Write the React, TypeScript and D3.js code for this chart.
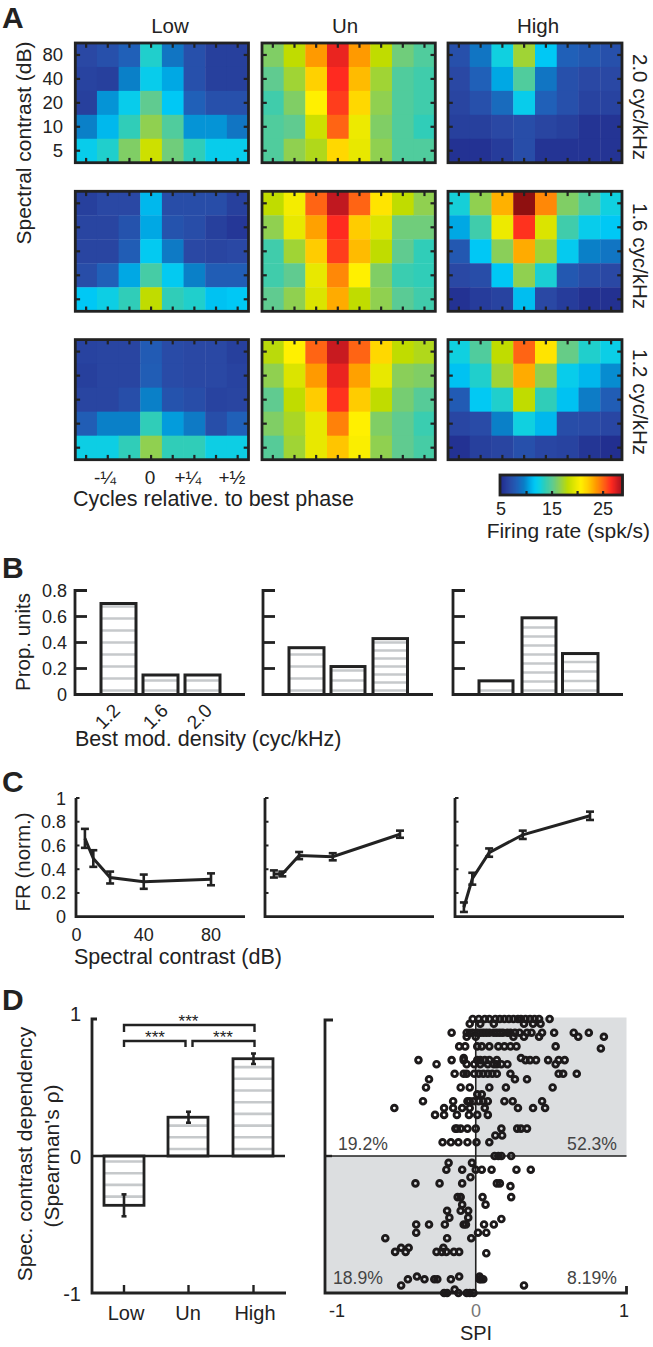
import React from "react";
import * as d3 from "d3";

const INK = "#222";
const FONT = "'Liberation Sans', Arial, sans-serif";

// ---------- Panel A data (firing rate, spk/s); rows top to bottom = 80,40,20,10,5 dB
const contrastLabels = ["80", "40", "20", "10", "5"];
const columnTitles = ["Low", "Un", "High"];
const densityLabels = ["2.0 cyc/kHz", "1.6 cyc/kHz", "1.2 cyc/kHz"];

const heatLow20 = [
  [6.5, 7, 8, 13, 9, 7, 6, 6],
  [6.2, 6, 9.5, 12, 10.5, 7, 6, 6],
  [6, 10, 12, 15, 11.5, 8, 7, 7],
  [9.5, 11, 13.5, 16.5, 14.5, 10, 10, 9],
  [12, 13, 16, 18.5, 15.5, 13.5, 12, 12],
];
const heatUn20 = [
  [16, 18, 23.5, 27, 23.5, 18, 15.5, 14.5],
  [15, 17, 21.8, 26.5, 22.5, 17, 14.5, 14],
  [14, 16, 20.5, 26, 21.5, 16.5, 14.5, 14],
  [14.5, 15, 18.5, 25, 19.7, 16, 14.5, 13.5],
  [14.5, 16.5, 17.5, 21.5, 19.5, 16.5, 14.5, 14.5],
];
const heatHigh20 = [
  [7, 9, 12.5, 17, 11.5, 8, 7.5, 7],
  [6.5, 8, 10.5, 14.5, 9, 7, 6.5, 6.5],
  [6.3, 7, 8.5, 12, 8, 7, 6.2, 6.2],
  [6, 6, 6.5, 6.8, 6.3, 6, 5.3, 5.3],
  [5.2, 5.2, 5.8, 6.8, 5.3, 5.3, 5.3, 5.3],
];
const heatLow16 = [
  [6, 6.5, 6.5, 11, 6.8, 6.8, 6.8, 6],
  [6.3, 6.3, 7.2, 10.5, 7.2, 6.8, 6, 5.5],
  [6.3, 6.3, 7.8, 11.7, 9.2, 6.5, 6.3, 6.5],
  [6.8, 8, 10.5, 14.2, 11.7, 9.5, 7.8, 7.8],
  [11.5, 12.3, 13.5, 18, 13.5, 13, 11.3, 11.5],
];
const heatUn16 = [
  [18, 20, 25, 28, 25, 21, 18, 16.5],
  [16.5, 19.5, 23.3, 26.5, 22, 19, 15.5, 15.5],
  [14, 17, 22, 26, 22.5, 18, 15, 13.5],
  [14, 15, 19.5, 24, 20.5, 16, 13.8, 13.5],
  [15, 16.5, 19, 23, 18, 16.5, 14.8, 14],
];
const heatHigh16 = [
  [12.7, 16.5, 22.8, 29.5, 24, 16, 14.5, 12.5],
  [10.5, 14, 19.7, 26.3, 19, 14, 12, 11.5],
  [7.5, 11.5, 16.3, 23, 17, 11.8, 9.5, 9],
  [6.5, 6.8, 11.5, 16.5, 12.8, 7.5, 6.8, 6.5],
  [5.2, 5.8, 6.2, 11.2, 6.5, 5.8, 5.1, 5.1],
];
const heatLow12 = [
  [6.2, 6.3, 6.3, 7.7, 6.7, 6.5, 6.5, 6],
  [6, 6.3, 6.3, 7.8, 6.7, 6.5, 6.5, 6.2],
  [6.3, 6.3, 6.9, 9.5, 7.2, 6.8, 6.2, 6.3],
  [7.8, 9.5, 9.5, 13.5, 10.2, 9.2, 6.9, 8],
  [12.3, 12.3, 13.5, 16.5, 13.5, 13.5, 12.3, 12.3],
];
const heatUn12 = [
  [17.8, 20.5, 25, 27.8, 25, 21.5, 18, 17.5],
  [16.5, 19, 23.5, 27, 23.3, 19.5, 16.3, 16],
  [15, 18, 22, 26.3, 22, 18, 15.7, 14.7],
  [16, 17.3, 19.5, 24.2, 20.5, 16, 15, 13.8],
  [14.7, 17, 19.5, 22.2, 20.3, 16.5, 15, 14.2],
];
const heatHigh12 = [
  [12.5, 14.5, 18, 25, 21, 15.2, 13, 12.2],
  [11.3, 13, 17, 23, 16.5, 12, 11, 9.8],
  [7.7, 11.6, 13, 18, 13.5, 11.3, 9.3, 7.8],
  [6.4, 6.7, 9.5, 12.5, 11, 6.8, 6.7, 6.4],
  [5.2, 6, 6.3, 7, 6.4, 6.2, 5.4, 5],
];
const heatGrid = [
  [heatLow20, heatUn20, heatHigh20],
  [heatLow16, heatUn16, heatHigh16],
  [heatLow12, heatUn12, heatHigh12],
];

const cmapValues = [5, 6.5, 8, 9.5, 10.5, 11.5, 12.5, 13.5, 15, 16.5, 18, 19.5, 20.5, 22, 23.5, 25, 26.5, 28, 29.5];
const cmapColors = ["#222f90", "#2a48a4", "#2060b8", "#0a80c8", "#00a8e4", "#00c8f5", "#10d0e0", "#30cdb8", "#60cb90", "#90d050", "#c0dc00", "#e8e800", "#fff000", "#ffcc00", "#ff9a00", "#ff6414", "#ff2a20", "#c01820", "#8f1010"];

const phaseLabels = ["-¼", "0", "+¼", "+½"];
const colorbarTicks = [5, 15, 25];
const colorbarMinorTicks = [10, 15, 20, 25];

// ---------- Panel B data
const densityCats = ["1.2", "1.6", "2.0"];
const propLow = [0.7, 0.15, 0.15];
const propUn = [0.36, 0.215, 0.43];
const propHigh = [0.105, 0.59, 0.315];
const propTicks = [0, 0.2, 0.4, 0.6, 0.8];
const propStripeGaps = [
  [12, 10, 10],
  [12, 10, 8],
  [10, 9, 9.5],
];

// ---------- Panel C data
const contrastDb = [5, 10, 20, 40, 80];
const frLow = [0.66, 0.49, 0.33, 0.295, 0.315];
const frLowErr = [0.08, 0.07, 0.05, 0.06, 0.05];
const frUn = [0.36, 0.36, 0.515, 0.505, 0.695];
const frUnErr = [0.03, 0.02, 0.03, 0.03, 0.03];
const frHigh = [0.08, 0.32, 0.54, 0.69, 0.85];
const frHighErr = [0.04, 0.05, 0.035, 0.035, 0.035];
const frTicks = [0, 0.2, 0.4, 0.6, 0.8, 1];
const contrastTicks = [0, 40, 80];

// ---------- Panel D data
const dCats = ["Low", "Un", "High"];
const dMeans = [-0.36, 0.283, 0.71];
const dErrs = [0.08, 0.04, 0.038];

// scatter rows: [Spearman rho, SPI values]
const scatterRows: [number, number[]][] = [
  [1.0, [-0.02, 0.02, 0.06, 0.09, 0.13, 0.16, 0.19, 0.22, 0.25, 0.28, 0.3, 0.33, 0.36, 0.39, 0.42, 0.49]],
  [0.965, [-0.04, 0.03, 0.12, 0.32, 0.38, 0.43]],
  [0.9, [-0.16, -0.06, -0.04, -0.02, 0.01, 0.03, 0.05, 0.07, 0.09, 0.12, 0.14, 0.16, 0.18, 0.21, 0.23, 0.26, 0.29, 0.34, 0.37, 0.44, 0.52, 0.65, 0.75]],
  [0.87, [-0.06, 0.0, 0.25, 0.32, 0.42, 0.68, 0.85]],
  [0.8, [-0.11, -0.07, 0.01, 0.04, 0.09, 0.15, 0.19, 0.23, 0.27, 0.53]],
  [0.785, [0.83]],
  [0.715, [-0.08, 0.3]],
  [0.7, [-0.38, -0.16, -0.08, 0.01, 0.03, 0.06, 0.09, 0.14, 0.33, 0.36, 0.4, 0.48, 0.55, 0.59]],
  [0.67, [-0.26, -0.06, -0.01, 0.03, 0.08, 0.12, 0.14, 0.17, 0.21, 0.53]],
  [0.6, [-0.14, -0.08, -0.06, -0.01, 0.02, 0.05, 0.08, 0.11, 0.14, 0.23, 0.55, 0.58, 0.67]],
  [0.56, [-0.31, 0.26, 0.34]],
  [0.5, [-0.33, -0.1, -0.04, 0.09, 0.2, 0.51]],
  [0.45, [0.01, 0.04]],
  [0.4, [-0.35, -0.15, -0.055, -0.04, -0.015, 0.02, 0.05, 0.08, 0.19, 0.245, 0.44]],
  [0.35, [-0.54, -0.21, -0.15, -0.09, -0.04, 0.06, 0.28, 0.38, 0.46]],
  [0.3, [-0.27, -0.21, -0.125, -0.045, 0.01, 0.08]],
  [0.2, [-0.135, -0.125, -0.1, -0.055, 0.0, 0.17, 0.275, 0.3, 0.34]],
  [0.15, [0.13, 0.175]],
  [0.1, [-0.22, -0.165, -0.115, -0.055, 0.005, 0.09]],
  [0.0, [0.125, 0.15, 0.17, 0.235]],
  [-0.05, [-0.18, -0.025]],
  [-0.1, [-0.195, -0.09, 0.0, 0.04, 0.105, 0.27, 0.365]],
  [-0.155, [-0.035]],
  [-0.2, [-0.4, -0.24, -0.09, 0.14, 0.16]],
  [-0.22, [0.23]],
  [-0.3, [-0.12, -0.1, 0.045, 0.235]],
  [-0.355, [-0.09, 0.065]],
  [-0.4, [-0.19, -0.1, -0.05]],
  [-0.45, [-0.175, -0.05]],
  [-0.46, [0.17]],
  [-0.5, [-0.395, -0.31, -0.205, -0.08, -0.065, 0.055, 0.12]],
  [-0.56, [-0.395, 0.015, 0.07]],
  [-0.6, [-0.6, -0.19, -0.03]],
  [-0.67, [-0.495, -0.445, -0.215]],
  [-0.7, [-0.535, -0.465, -0.26, -0.225, -0.195, -0.145, -0.11]],
  [-0.71, [0.07]],
  [-0.88, [-0.39, -0.11, 0.025]],
  [-0.9, [-0.45, -0.34, -0.275, -0.255, -0.165, 0.025, 0.035, 0.05]],
  [-0.945, [-0.495, 0.32]],
  [-0.975, [-0.14]],
  [-1.0, [-0.21, -0.19, -0.115, -0.06, -0.04, -0.015]],
];
const quadrantLabels = ["19.2%", "52.3%", "18.9%", "8.19%"];

// ---------- scales shared
const heatColor = d3.scaleLinear<string>().domain(cmapValues).range(cmapColors).clamp(true);

function Txt(p: any) {
  const { x, y, size = 18, anchor = "middle", rot, fill = INK, weight, children } = p;
  return (
    <text
      x={x}
      y={y}
      fontSize={size}
      fontWeight={weight}
      textAnchor={anchor}
      fill={fill}
      fontFamily={FONT}
      transform={rot !== undefined ? `rotate(${rot} ${x} ${y})` : undefined}
    >
      {children}
    </text>
  );
}

function Heat({ data, x0, x1, y0, y1 }: { data: number[][]; x0: number; x1: number; y0: number; y1: number }) {
  const xs = d3.scaleBand<number>().domain(d3.range(8)).range([x0, x1]);
  const ys = d3.scaleBand<number>().domain(d3.range(5)).range([y0, y1]);
  const tl = 3.8;
  return (
    <g>
      {data.map((row, r) =>
        row.map((v, c) => (
          <rect key={`${r}-${c}`} x={xs(c)} y={ys(r)} width={xs.bandwidth() + 0.4} height={ys.bandwidth() + 0.4} fill={heatColor(v)} />
        ))
      )}
      <rect x={x0} y={y0} width={x1 - x0} height={y1 - y0} fill="none" stroke={INK} strokeWidth={2.8} />
      {d3.range(8).map((c) => {
        const cx = xs(c)! + xs.bandwidth() / 2;
        return (
          <g key={c} stroke={INK} strokeWidth={2.2}>
            <line x1={cx} x2={cx} y1={y0} y2={y0 + tl + 1} />
            <line x1={cx} x2={cx} y1={y1} y2={y1 - tl - 1} />
          </g>
        );
      })}
      {d3.range(5).map((r) => {
        const cy = ys(r)! + ys.bandwidth() / 2;
        return (
          <g key={r} stroke={INK} strokeWidth={2.2}>
            <line x1={x0} x2={x0 + tl + 1} y1={cy} y2={cy} />
            <line x1={x1} x2={x1 - tl - 1} y1={cy} y2={cy} />
          </g>
        );
      })}
    </g>
  );
}

function PanelA() {
  const cols = [
    [75.3, 248.5],
    [262, 435.3],
    [448, 622],
  ];
  const rows = [
    [43, 162.7],
    [191.3, 311.3],
    [339.6, 459.7],
  ];
  const rowLabelY = [107, 256, 402];
  const cb = d3.scaleLinear().domain([5, 28.7]).range([501, 622]);
  const yScale = d3.scaleBand<number>().domain(d3.range(5)).range([rows[0][0], rows[0][1]]);
  const phaseX = [105, 150, 188, 232];
  const titleX = [170, 345, 538];
  return (
    <g>
      <Txt x={2} y={28} size={30} weight="bold" anchor="start">A</Txt>
      {columnTitles.map((t, i) => (
        <Txt key={t} x={titleX[i]} y={33} size={20.5}>{t}</Txt>
      ))}
      {heatGrid.map((rowData, r) =>
        rowData.map((d, c) => (
          <Heat key={`${r}${c}`} data={d} x0={cols[c][0]} x1={cols[c][1]} y0={rows[r][0]} y1={rows[r][1]} />
        ))
      )}
      {contrastLabels.map((l, i) => (
        <Txt key={l} x={63} y={yScale(i)! + yScale.bandwidth() / 2 + 6} size={18.5} anchor="end">{l}</Txt>
      ))}
      <Txt x={31} y={143} size={21} rot={-90}>Spectral contrast (dB)</Txt>
      {densityLabels.map((l, i) => (
        <Txt key={l} x={633} y={rowLabelY[i]} size={20.5} rot={90}>{l}</Txt>
      ))}
      {phaseLabels.map((l, i) => (
        <Txt key={l} x={phaseX[i]} y={484} size={19}>{l}</Txt>
      ))}
      <Txt x={73} y={506} size={21.5} anchor="start">Cycles relative. to best phase</Txt>
      {d3.range(5, 28.7, 0.2).map((v) => (
        <rect key={v} x={cb(v)} y={475} width={2} height={20} fill={heatColor(v)} />
      ))}
      <rect x={500} y={475} width={122.5} height={20} fill="none" stroke={INK} strokeWidth={2.8} />
      {colorbarMinorTicks.map((v) => (
        <line key={v} x1={cb(v)} x2={cb(v)} y1={495} y2={491} stroke={INK} strokeWidth={2.2} />
      ))}
      {colorbarTicks.map((v) => (
        <Txt key={v} x={cb(v)} y={515} size={18}>{v}</Txt>
      ))}
      <Txt x={650} y={538} size={21} anchor="end">Firing rate (spk/s)</Txt>
    </g>
  );
}

function BarsB({ vals, axisX, barEdges, gaps, i }: any) {
  const y = d3.scaleLinear().domain([0, 0.8]).range([694.5, 590.5]);
  return (
    <g>
      {vals.map((v: number, k: number) => {
        const [a, b] = barEdges[k];
        const stripes = d3.range(y(0) - 4, y(v) + 1, -gaps[k]);
        return (
          <g key={k}>
            {stripes.map((s: number) => (
              <line key={s} x1={a} x2={b} y1={s} y2={s} stroke="#c6c9cb" strokeWidth={2.4} />
            ))}
            <rect x={a} y={y(v)} width={b - a} height={y(0) - y(v)} fill="none" stroke={INK} strokeWidth={3} />
          </g>
        );
      })}
      <path d={`M${axisX + 12},${y(0.8)}H${axisX}V${y(0)}H${axisX + 170}`} fill="none" stroke={INK} strokeWidth={2.8} />
      {propTicks.slice(1, 4).map((t) => (
        <line key={t} x1={axisX} x2={axisX + 12} y1={y(t)} y2={y(t)} stroke={INK} strokeWidth={2.8} />
      ))}
      {i === 0 &&
        propTicks.map((t) => (
          <Txt key={t} x={67} y={y(t) + 6.5} anchor="end" size={18}>{t === 0 ? "0" : t.toFixed(1)}</Txt>
        ))}
    </g>
  );
}

function PanelB() {
  const edges = [
    [[101, 136], [143, 178], [185, 220]],
    [[289, 324], [331, 365], [373, 407.5]],
    [[479, 513], [522, 556], [562.5, 598]],
  ];
  const axes = [75, 263, 453];
  const series = [propLow, propUn, propHigh];
  const labelX = [112, 160, 204];
  return (
    <g>
      <Txt x={2} y={578} size={30} weight="bold" anchor="start">B</Txt>
      {series.map((s, i) => (
        <BarsB key={i} vals={s} axisX={axes[i]} barEdges={edges[i]} gaps={propStripeGaps[i]} i={i} />
      ))}
      {densityCats.map((l, i) => (
        <Txt key={l} x={labelX[i]} y={721} size={19} rot={-45}>{l}</Txt>
      ))}
      <Txt x={75} y={746} size={21.5} anchor="start">Best mod. density (cyc/kHz)</Txt>
      <Txt x={30} y={642} size={20.5} rot={-90}>Prop. units</Txt>
    </g>
  );
}

function LineC({ vals, errs, axisX, i }: any) {
  const y = d3.scaleLinear().domain([0, 1]).range([916.7, 798]);
  const x = d3.scaleLinear().domain([0, 80]).range([axisX + 0.5, axisX + 135]);
  const line = d3.line<number>().x((_, k) => x(contrastDb[k])).y((v) => y(v));
  return (
    <g>
      <path d={`M${axisX},${y(1)}V${y(0)}H${axisX + 169}`} fill="none" stroke={INK} strokeWidth={2.8} />
      {frTicks.slice(1).map((t) => (
        <line key={t} x1={axisX} x2={axisX + 3.5} y1={y(t)} y2={y(t)} stroke={INK} strokeWidth={2} />
      ))}
      <path d={line(vals) || ""} fill="none" stroke={INK} strokeWidth={3} />
      {vals.map((v: number, k: number) => {
        const cx = x(contrastDb[k]);
        return (
          <g key={k} stroke={INK} strokeWidth={2.6}>
            <line x1={cx} x2={cx} y1={y(v - errs[k])} y2={y(v + errs[k])} />
            <line x1={cx - 4} x2={cx + 4} y1={y(v - errs[k])} y2={y(v - errs[k])} />
            <line x1={cx - 4} x2={cx + 4} y1={y(v + errs[k])} y2={y(v + errs[k])} />
          </g>
        );
      })}
      {i === 0 &&
        frTicks.map((t) => (
          <Txt key={t} x={66} y={y(t) + 6.5} anchor="end" size={18}>{t === 0 || t === 1 ? String(t) : t.toFixed(1)}</Txt>
        ))}
      {i === 0 &&
        contrastTicks.map((t) => (
          <Txt key={t} x={x(t)} y={941} size={18}>{t}</Txt>
        ))}
    </g>
  );
}

function PanelC() {
  return (
    <g>
      <Txt x={2} y={792} size={30} weight="bold" anchor="start">C</Txt>
      <LineC vals={frLow} errs={frLowErr} axisX={76} i={0} />
      <LineC vals={frUn} errs={frUnErr} axisX={265} i={1} />
      <LineC vals={frHigh} errs={frHighErr} axisX={455} i={2} />
      <Txt x={30} y={862} size={20.5} rot={-90}>FR (norm.)</Txt>
      <Txt x={74} y={964} size={21.5} anchor="start">Spectral contrast (dB)</Txt>
    </g>
  );
}

function PanelDBars() {
  const y = d3.scaleLinear().domain([-1, 1]).range([1293, 1019]);
  const edges = [
    [104, 144],
    [168, 208],
    [233, 273],
  ];
  const centers = [124, 188.5, 253.5];
  const labelX = [126, 188, 255];
  const axisLeft = 92;
  return (
    <g>
      <Txt x={2} y={1010} size={30} weight="bold" anchor="start">D</Txt>
      {dMeans.map((m, i) => {
        const [a, b] = edges[i];
        const stripes =
          m > 0 ? d3.range(y(0) - 7, y(m) + 1, -11.7) : d3.range(y(0) + 5.5, y(m) - 1, 11.7);
        return (
          <g key={i}>
            {stripes.map((s: number) => (
              <line key={s} x1={a} x2={b} y1={s} y2={s} stroke="#c6c9cb" strokeWidth={2.6} />
            ))}
            <rect x={a} y={Math.min(y(m), y(0))} width={b - a} height={Math.abs(y(m) - y(0))} fill="none" stroke={INK} strokeWidth={2.8} />
          </g>
        );
      })}
      <path d={`M${axisLeft + 5},${y(1)}H${axisLeft}V${y(-1)}H286`} fill="none" stroke={INK} strokeWidth={2.8} />
      <line x1={axisLeft} x2={285} y1={y(0)} y2={y(0)} stroke={INK} strokeWidth={2.4} />
      {dMeans.map((m, i) => (
        <g key={i} stroke={INK} strokeWidth={2.6}>
          <line x1={centers[i]} x2={centers[i]} y1={y(m - dErrs[i])} y2={y(m + dErrs[i])} />
          <line x1={centers[i] - 2.5} x2={centers[i] + 2.5} y1={y(m - dErrs[i])} y2={y(m - dErrs[i])} />
          <line x1={centers[i] - 2.5} x2={centers[i] + 2.5} y1={y(m + dErrs[i])} y2={y(m + dErrs[i])} />
          <line x1={centers[i]} x2={centers[i]} y1={y(-1)} y2={y(-1) - 8} strokeWidth={2.4} />
        </g>
      ))}
      <g fill="none" stroke={INK} strokeWidth={2.4}>
        <path d={`M124,1032V1025H254.5V1032`} />
        <path d={`M124,1047V1041H185.5V1047`} />
        <path d={`M192.5,1047V1041H254.5V1047`} />
      </g>
      <Txt x={188.5} y={1027} size={17}>***</Txt>
      <Txt x={155} y={1043} size={17}>***</Txt>
      <Txt x={223} y={1043} size={17}>***</Txt>
      <Txt x={81} y={1021} size={20} anchor="end">1</Txt>
      <Txt x={81} y={1164} size={20} anchor="end">0</Txt>
      <Txt x={81} y={1301} size={20} anchor="end">-1</Txt>
      {dCats.map((c, i) => (
        <Txt key={c} x={labelX[i]} y={1320} size={20}>{c}</Txt>
      ))}
      <Txt x={32} y={1154} size={21} rot={-90}>Spec. contrast dependency</Txt>
      <Txt x={59} y={1156} size={21} rot={-90}>(Spearman's ρ)</Txt>
    </g>
  );
}

function PanelDScatter() {
  const x = d3.scaleLinear().domain([-1, 1]).range([325, 626.5]);
  const y = d3.scaleLinear().domain([-1, 1]).range([1293, 1019]);
  const grey = "#dcdee0";
  return (
    <g>
      <rect x={x(0)} y={1017.5} width={x(1) - x(0)} height={y(0) - 1017.5} fill={grey} />
      <rect x={x(-1)} y={y(0)} width={x(0) - x(-1)} height={y(-1) - y(0)} fill={grey} />
      <line x1={x(0)} x2={x(0)} y1={1017.5} y2={y(-1)} stroke={INK} strokeWidth={1.6} />
      <line x1={x(-1)} x2={x(1)} y1={y(0)} y2={y(0)} stroke={INK} strokeWidth={1.6} />
      <path d={`M${x(-1) + 8},${1020}H${x(-1)}V${y(-1)}H${x(1)}V${y(-1) - 7}`} fill="none" stroke={INK} strokeWidth={2.8} />
      <line x1={x(-1)} x2={x(-1) + 7} y1={y(0)} y2={y(0)} stroke={INK} strokeWidth={2.4} />
      {scatterRows.map(([rho, spis]) =>
        spis.map((s, i) => (
          <circle key={`${rho}-${i}`} cx={x(s)} cy={y(rho)} r={2.85} fill="none" stroke="#1d1a1b" strokeWidth={2.9} />
        ))
      )}
      <Txt x={338} y={1150} size={17.6} anchor="start" fill="#444">{quadrantLabels[0]}</Txt>
      <Txt x={617} y={1150} size={17.6} anchor="end" fill="#444">{quadrantLabels[1]}</Txt>
      <Txt x={333} y={1284} size={17.6} anchor="start" fill="#444">{quadrantLabels[2]}</Txt>
      <Txt x={617} y={1284} size={17.6} anchor="end" fill="#444">{quadrantLabels[3]}</Txt>
      <Txt x={337} y={1317} size={18}>-1</Txt>
      <Txt x={476} y={1317} size={18} fill="#777">0</Txt>
      <Txt x={624} y={1317} size={18}>1</Txt>
      <Txt x={476} y={1340} size={20}>SPI</Txt>
    </g>
  );
}

export default function App() {
  return (
    <svg
      width={653}
      height={1347}
      viewBox="0 0 653 1347"
      style={{ position: "absolute", left: 0, top: 0, display: "block", background: "#fff" }}
    >
      <PanelA />
      <PanelB />
      <PanelC />
      <PanelDBars />
      <PanelDScatter />
    </svg>
  );
}
